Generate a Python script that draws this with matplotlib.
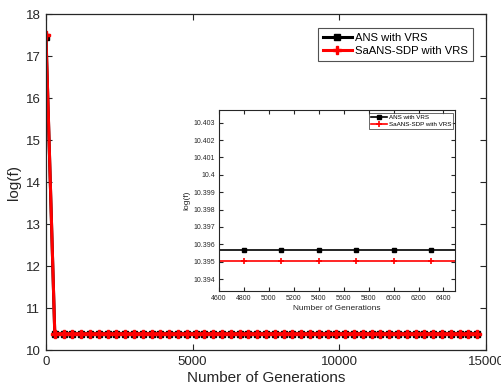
import numpy as np
import matplotlib.pyplot as plt
from matplotlib.ticker import FormatStrFormatter

plt.rcParams['font.family'] = ['Liberation Sans', 'DejaVu Sans']

# generations sampled every 300 (0 .. 14700)
gens = list(range(0, 15000, 300))
# log(f) values: start value, then converged value
ans_start = 17.45
ans_conv = 10.39568
sdp_start = 17.50
sdp_conv = 10.39505
ans_vals = [ans_start] + [ans_conv] * (len(gens) - 1)
sdp_vals = [sdp_start] + [sdp_conv] * (len(gens) - 1)

fig = plt.figure(figsize=(5.02, 3.89), dpi=100)

# main axes
ax = fig.add_axes([0.0916, 0.0995, 0.8765, 0.8637])
ax.plot(gens, ans_vals, color='black', lw=2.2, marker='s', ms=4.5, label='ANS with VRS')
ax.plot(gens, sdp_vals, color='red', lw=2.2, marker='P', ms=5.5, label='SaANS-SDP with VRS')
ax.set_xlim(0, 15000)
ax.set_ylim(10, 18)
ax.set_xticks([0, 5000, 10000, 15000])
ax.set_yticks(range(10, 19))
ax.tick_params(direction='in', top=True, right=True, labelsize=9.5, length=4, pad=4, colors='#262626')
ax.set_xlabel('Number of Generations', fontsize=11, color='#262626', labelpad=2)
ax.set_ylabel('log(f)', fontsize=11, color='#262626', labelpad=3)
for s in ax.spines.values():
    s.set_color('#262626')
    s.set_linewidth(0.9)
leg = ax.legend(loc='upper right', fontsize=8.1, fancybox=False, edgecolor='#262626',
                handlelength=2.6, borderpad=0.4, labelspacing=0.3, handletextpad=0.3,
                borderaxespad=0, bbox_to_anchor=(0.970, 0.958))
leg.get_frame().set_linewidth(0.8)

# inset axes
ins = fig.add_axes([0.4363, 0.2527, 0.4707, 0.4645])
ins.plot(gens, ans_vals, color='black', lw=1.2, marker='s', ms=3, label='ANS with VRS')
ins.plot(gens, sdp_vals, color='red', lw=1.2, marker='+', ms=4, mew=1.2, label='SaANS-SDP with VRS')
ins.set_xlim(4600, 6495)
ins.set_ylim(10.39333, 10.40373)
ins.set_xticks(range(4600, 6401, 200))
ins.set_yticks(np.arange(10.394, 10.4035, 0.001))
ins.yaxis.set_major_formatter(FormatStrFormatter('%g'))
ins.tick_params(direction='in', top=True, right=True, labelsize=5, length=3, pad=3, colors='#262626')
ins.set_xlabel('Number of Generations', fontsize=6, color='#262626', labelpad=2)
ins.set_ylabel('log(f)', fontsize=6, color='#262626', labelpad=2)
for s in ins.spines.values():
    s.set_color('#262626')
    s.set_linewidth(0.8)
leg2 = ins.legend(loc='upper right', fontsize=4.5, fancybox=False, edgecolor='#262626',
                  handlelength=2.6, borderpad=0.3, labelspacing=0.2, handletextpad=0.3,
                  borderaxespad=0, bbox_to_anchor=(0.99, 0.983))
leg2.get_frame().set_linewidth(0.6)

plt.savefig('out.png', dpi=100)
